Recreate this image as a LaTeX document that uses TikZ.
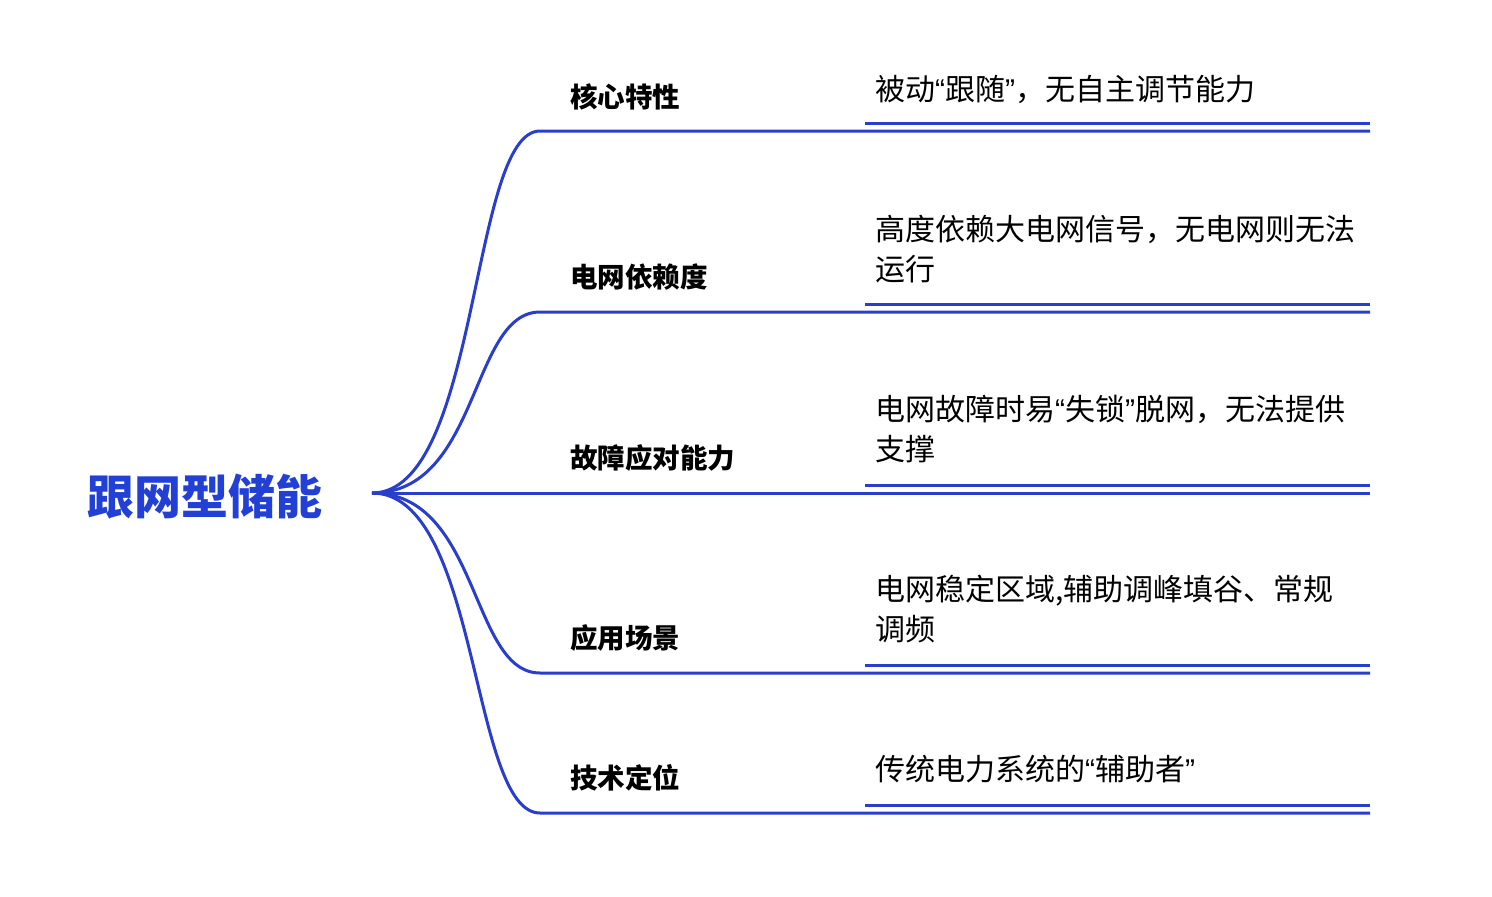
\documentclass[tikz,border=0pt]{standalone}
\usepackage{fontspec}
\newfontfamily\cjk{Noto Sans CJK SC}
\newfontfamily\lat{Liberation Sans}
\newcommand{\myLq}{{\lat “}}
\newcommand{\myRq}{{\lat ”}}
\definecolor{ln}{RGB}{42,62,204}
\definecolor{rt}{RGB}{34,64,214}
\begin{document}
\begin{tikzpicture}[x=1pt,y=-1pt,
  br/.style={draw=ln,line width=3pt},
  blab/.style={anchor=west,font=\cjk\bfseries\fontsize{27.5}{30}\selectfont,inner sep=0},
  leaf/.style={anchor=north west,font=\cjk\fontsize{30}{40}\selectfont,inner sep=0,align=left}]
\useasboundingbox (0,0) rectangle (1492,897);
\node[font=\cjk\bfseries\fontsize{47}{50}\selectfont,text=rt,inner sep=0] (root) at (205,497) {跟网型储能};
\coordinate (o) at (372,493);
\foreach \n/\y/\lab/\ly in {a/131/核心特性/97, b/312/电网依赖度/277, c/493/故障应对能力/458, d/673/应用场景/638, e/813/技术定位/778}{
  \coordinate (s\n) at (540,\y);
  \coordinate (m\n) at (865,\y);
  \coordinate (e\n) at (1370,\y);
  \coordinate (u\n) at (865,\y-8);
  \coordinate (v\n) at (1370,\y-8);
  \draw[br] (o) .. controls (480,493) and (470,\y) .. (s\n) -- (m\n) -- (e\n);
  \draw[br] (u\n) -- (v\n);
  \node[blab] (l\n) at (570,\ly) {\lab};
}
\node[leaf] (ta) at (875,75) {被动\myLq 跟随\myRq ，无自主调节能力};
\node[leaf] (tb) at (875,215) {高度依赖大电网信号，无电网则无法\\运行};
\node[leaf] (tc) at (875,395) {电网故障时易\myLq 失锁\myRq 脱网，无法提供\\支撑};
\node[leaf] (td) at (875,575) {电网稳定区域,辅助调峰填谷、常规\\调频};
\node[leaf] (te) at (875,755) {传统电力系统的\myLq 辅助者\myRq};
\end{tikzpicture}
\end{document}
